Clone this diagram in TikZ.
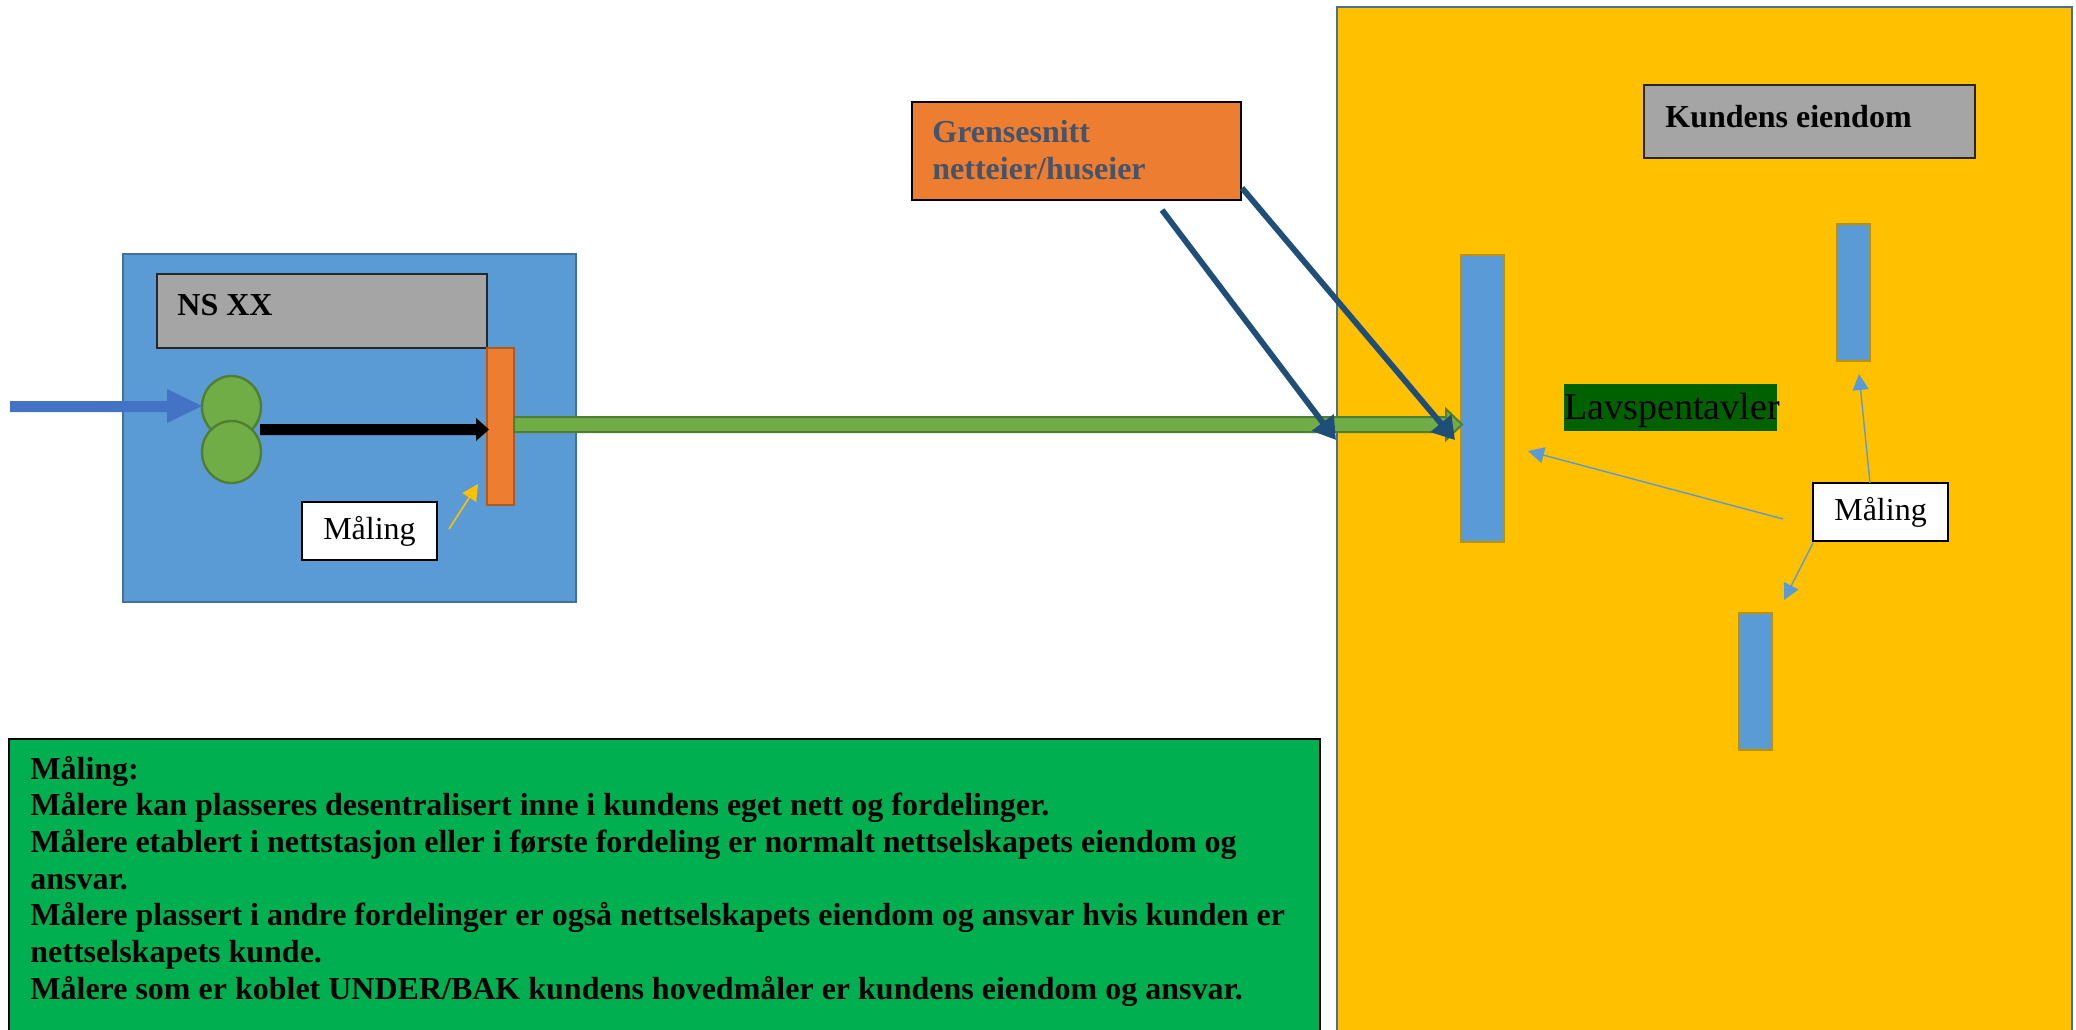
\documentclass[tikz,border=0pt]{standalone}
\usepackage{fontspec}
\setmainfont{Liberation Serif}
\usetikzlibrary{arrows.meta,calc,shapes.geometric}
\definecolor{nsblue}{HTML}{5B9BD5}
\definecolor{nsborder}{HTML}{41719C}
\definecolor{grayfill}{HTML}{A5A5A5}
\definecolor{orangefill}{HTML}{ED7D31}
\definecolor{orangeborder}{HTML}{AE5A21}
\definecolor{greenfill}{HTML}{70AD47}
\definecolor{greenborder}{HTML}{507E32}
\definecolor{arrowblue}{HTML}{4472C4}
\definecolor{yellowfill}{HTML}{FFC000}
\definecolor{goldborder}{HTML}{BF9000}
\definecolor{lavgreen}{HTML}{006100}
\definecolor{notegreen}{HTML}{00B050}
\definecolor{slate}{HTML}{44546A}
\definecolor{darkblue}{HTML}{1F4E79}
\newcommand\boxat[7]{\node[#2, inner sep=0pt, outer sep=0pt,
  minimum width={(#5-#3)*0.5pt}, minimum height={(#6-#4)*0.5pt}]
  (#1) at ({(#3+#5)/2},{(#4+#6)/2}) {#7};}
\tikzset{
  basefont/.style={font=\fontsize{16pt}{18.4pt}\selectfont},
  boldfont/.style={font=\fontsize{16pt}{18.4pt}\selectfont\bfseries},
  graybox/.style={draw=black!85, fill=grayfill, line width=0.8pt},
  bluebar/.style={draw=goldborder, fill=nsblue, line width=1.2pt},
  labelbox/.style={draw=black, fill=white, line width=1pt, basefont},
  pointer/.style={draw=nsblue, line width=0.7pt, -{Triangle[length=8pt,width=8pt]}},
  bigpointer/.style={draw=darkblue, line width=2.9pt, -{Triangle[length=11pt,width=13pt]}},
}
\begin{document}
\begin{tikzpicture}[x=0.5pt,y=-0.5pt]
\useasboundingbox (0,0) rectangle (2076,1029);
\fill[white] (0,0) rectangle (2076,1029);

% customer property
\boxat{cust}{draw=nsborder, fill=yellowfill, line width=0.9pt}{1337}{7}{2072}{1070}{}
\boxat{kund}{graybox}{1644}{85}{1975}{158}{}
\node[boldfont, anchor=base west, inner sep=0pt] (kundtxt) at (1665,127) {Kundens eiendom};
\boxat{tav1}{bluebar}{1461}{255}{1504}{542}{}
\boxat{tav2}{bluebar}{1837}{224}{1870}{361}{}
\boxat{tav3}{bluebar}{1739}{613}{1772}{750}{}
\boxat{lav}{fill=lavgreen}{1564}{384}{1777}{431}{}
\node[font=\fontsize{19pt}{22pt}\selectfont, anchor=base west, inner sep=0pt] (lavtxt) at (1564,419) {Lavspentavler};
\boxat{malR}{labelbox}{1813}{483}{1948}{541}{Måling}
\coordinate (pA) at (1783,519);
\coordinate (pB) at (1870,483);
\coordinate (pC) at (1813,543);
\coordinate (tA) at (1528,451);
\coordinate (tB) at (1859,374);
\coordinate (tC) at (1784,600);
\draw[pointer] (pA) -- (tA);
\draw[pointer] (pB) -- (tB);
\draw[pointer] (pC) -- (tC);

% net station
\boxat{ns}{draw=nsborder, fill=nsblue, line width=1pt}{123}{254}{576}{602}{}
\boxat{nsname}{graybox}{157}{274}{487}{348}{}
\node[boldfont, anchor=base west, inner sep=0pt] (nstxt) at (177,315) {NS XX};
\boxat{bar}{draw=orangeborder, fill=orangefill, line width=1.2pt}{487}{348}{514}{505}{}
\boxat{c1}{ellipse, draw=greenborder, fill=greenfill, line width=1.2pt}{202}{376}{261}{438}{}
\boxat{c2}{ellipse, draw=greenborder, fill=greenfill, line width=1.2pt}{202}{421}{261}{483}{}
\fill[arrowblue] (10,401) -- (167,401) -- (167,389) -- (202,406) -- (167,423) -- (167,412) -- (10,412) -- cycle;
\fill[black] (260,424) -- (476,424) -- (476,418) -- (489,429.5) -- (476,441) -- (476,435) -- (260,435) -- cycle;
\boxat{malL}{labelbox}{302}{502}{437}{560}{Måling}
\coordinate (yA) at (449,529);
\coordinate (yB) at (478,484);
\draw[draw=yellowfill, line width=0.8pt, -{Triangle[length=8pt,width=8pt]}] (yA) -- (yB);

% main cable
\draw[fill=greenfill, draw=greenborder, line width=1pt]
  (514,417) -- (1446,417) -- (1446,409) -- (1462,424.5) -- (1446,440) -- (1446,432) -- (514,432) -- cycle;

% interface label
\boxat{grense}{draw=black, fill=orangefill, line width=0.8pt}{912}{102}{1241}{200}{}
\node[boldfont, text=slate, anchor=base west, inner sep=0pt] (gtxt1) at (932,142) {Grensesnitt};
\node[boldfont, text=slate, anchor=base west, inner sep=0pt] (gtxt2) at (932,179) {netteier/huseier};
\coordinate (g1) at (1162,210);
\coordinate (g2) at (1242,188);
\coordinate (e1) at (1336,440);
\coordinate (e2) at (1455,440);
\draw[bigpointer] (g1) -- (e1);
\draw[bigpointer] (g2) -- (e2);

% note
\boxat{note}{draw=black, fill=notegreen, line width=1pt}{9}{739}{1320}{1070}{}
\node[font=\fontsize{16pt}{18.33pt}\selectfont\bfseries, align=left, anchor=base west, inner sep=0pt] (notetxt) at (30,999) {Måling:\\
Målere kan plasseres desentralisert inne i kundens eget nett og fordelinger.\\
Målere etablert i nettstasjon eller i første fordeling er normalt nettselskapets eiendom og\\
ansvar.\\
Målere plassert i andre fordelinger er også nettselskapets eiendom og ansvar hvis kunden er\\
nettselskapets kunde.\\
Målere som er koblet UNDER/BAK kundens hovedmåler er kundens eiendom og ansvar.};
\end{tikzpicture}
\end{document}
